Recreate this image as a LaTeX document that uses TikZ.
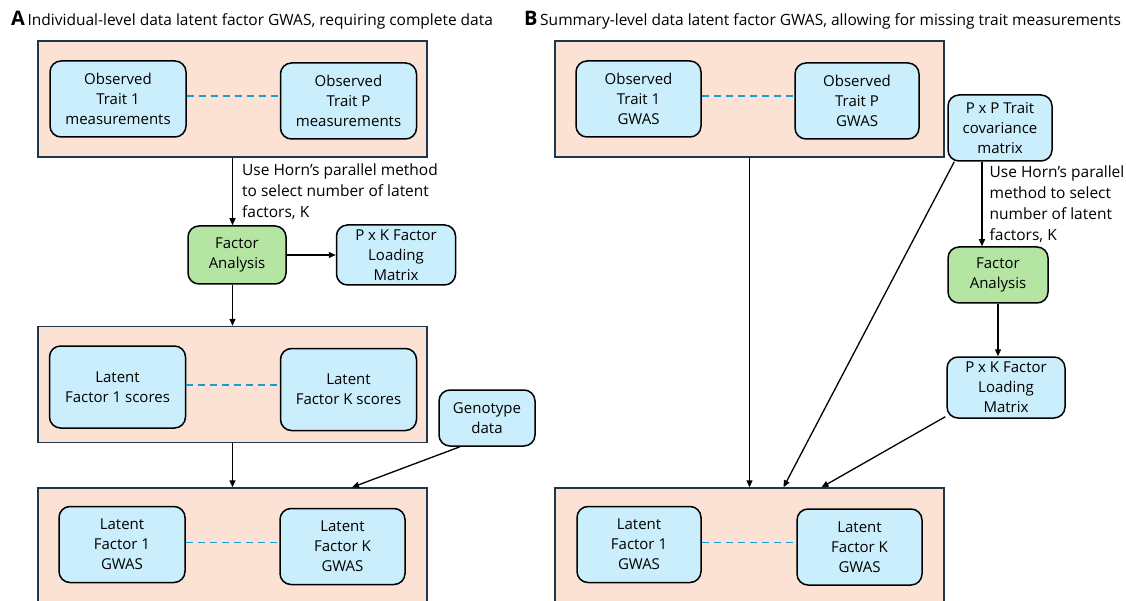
\documentclass[tikz,border=0pt]{standalone}
\usepackage{fontspec}
\setmainfont{Open Sans}
\usepackage{tikz}
\usetikzlibrary{arrows.meta, positioning}
\definecolor{panelpink}{RGB}{251, 226, 213}
\definecolor{paneledge}{RGB}{30, 55, 75}
\definecolor{boxblue}{RGB}{202, 238, 251}
\definecolor{boxgreen}{RGB}{180, 229, 162}
\definecolor{dashblue}{RGB}{21, 158, 213}

\begin{document}
\begin{tikzpicture}[
    x=1pt, y=-1pt,
    every node/.style={font=\fontsize{15}{20}\selectfont},
    panel/.style={rectangle, draw=paneledge, fill=panelpink, line width=1.4pt, minimum width=389pt, minimum height=116pt, inner sep=0pt},
    block/.style={rectangle, draw=black, fill=boxblue, rounded corners=11pt, line width=1.5pt, align=center, minimum width=136pt, minimum height=76pt, inner sep=1pt},
    fablock/.style={block, fill=boxgreen, minimum width=98pt, minimum height=58pt},
    link/.style={dashblue, dash pattern=on 7pt off 5pt, line width=1.3pt},
    arrow/.style={-{Triangle[length=7pt, width=6pt]}, line width=1.3pt, black},
    note/.style={right, align=left, inner sep=0pt, font=\fontsize{15.5}{21}\selectfont}
]
    \useasboundingbox (0,0) rectangle (1126,601);

    % Titles
    \node[anchor=west, inner sep=0pt, font=\fontsize{15.5}{20}\selectfont] (titleA) at (11, 20) {{\fontsize{20}{20}\selectfont\bfseries A}\,Individual-level data latent factor GWAS, requiring complete data};
    \node[anchor=west, inner sep=0pt, font=\fontsize{15.5}{20}\selectfont] (titleB) at (524, 20) {{\fontsize{20}{20}\selectfont\bfseries B}\,Summary-level data latent factor GWAS, allowing for missing trait measurements};

    % Panel A nodes
    \node[panel] (obsA) at (232.5, 99) {};
    \node[block] (trait1A) at (118, 99) {Observed\\Trait 1\\measurements};
    \node[block] (traitPA) at (348.5, 101) {Observed\\Trait P\\measurements};
    \node[fablock] (faA) at (237, 255) {Factor\\Analysis};
    \node[block, right=49pt of faA, minimum width=119pt, minimum height=60pt] (loadA) {P x K Factor\\Loading\\Matrix};
    \node[panel] (scoreA) at (232.5, 384.5) {};
    \node[block, minimum height=82pt] (score1A) at (117.5, 387) {Latent\\Factor 1 scores};
    \node[block, minimum height=82pt] (scoreKA) at (348.5, 389.5) {Latent\\Factor K scores};
    \node[block, minimum width=96pt, minimum height=56pt] (genoA) at (487, 418) {Genotype\\data};
    \node[panel, minimum height=140pt] (gwasA) at (232.5, 558) {};
    \node[block, minimum width=126pt] (gwas1A) at (122, 544.5) {Latent\\Factor 1\\GWAS};
    \node[block, minimum width=125pt] (gwasKA) at (342.5, 546.5) {Latent\\Factor K\\GWAS};

    % Panel B nodes
    \node[panel] (obsB) at (749.5, 99) {};
    \node[block, minimum width=125pt] (trait1B) at (638.5, 99) {Observed\\Trait 1\\GWAS};
    \node[block, minimum width=124pt] (traitPB) at (857, 101) {Observed\\Trait P\\GWAS};
    \node[block, minimum width=104pt, minimum height=66pt] (covB) at (1000, 128) {P x P Trait\\covariance\\matrix};
    \node[fablock, minimum width=100pt, minimum height=56pt] (faB) at (998, 275) {Factor\\Analysis};
    \node[block, minimum width=118pt, minimum height=61pt] (loadB) at (1006, 387.5) {P x K Factor\\Loading\\Matrix};
    \node[panel, minimum height=140pt] (gwasB) at (749.5, 558) {};
    \node[block, minimum width=124pt] (gwas1B) at (639, 544.5) {Latent\\Factor 1\\GWAS};
    \node[block, minimum width=125pt] (gwasKB) at (859.5, 547) {Latent\\Factor K\\GWAS};

    % Dashed links
    \draw[link] ([yshift=3pt]trait1A.east) -- ([yshift=3pt]trait1A.east -| traitPA.west);
    \draw[link] ([yshift=2pt]score1A.east) -- ([yshift=2pt]score1A.east -| scoreKA.west);
    \draw[link] ([yshift=2pt]gwas1A.east) -- ([yshift=2pt]gwas1A.east -| gwasKA.west);
    \draw[link] ([yshift=3pt]trait1B.east) -- ([yshift=3pt]trait1B.east -| traitPB.west);
    \draw[link] ([yshift=2pt]gwas1B.east) -- ([yshift=2pt]gwas1B.east -| gwasKB.west);

    % Paths A
    \draw[arrow] (obsA.south) -- node[note, xshift=9pt] {Use Horn’s parallel method\\to select number of latent\\factors, K} (obsA.south |- faA.north);
    \draw[arrow] (faA) -- (loadA);
    \draw[arrow] (obsA.south |- faA.south) -- (scoreA.north);
    \draw[arrow] (scoreA) -- (gwasA);
    \draw[arrow] ([xshift=-27pt]genoA.south) -- ([xshift=119.5pt]gwasA.north);

    % Paths B
    \draw[arrow] (obsB) -- (gwasB);
    \draw[arrow] ([xshift=-18pt]covB.south) -- node[note, xshift=7pt] {Use Horn’s parallel\\method to select\\number of latent\\factors, K} ([xshift=-18pt]covB.south |- faB.north);
    \draw[arrow] (faB.south) -- (faB.south |- loadB.north);
    \draw[arrow] ([xshift=7pt]covB.south west) -- ([xshift=34pt]gwasB.north);
    \draw[arrow] ([xshift=-1pt, yshift=2pt]loadB.south west) -- ([xshift=72pt]gwasB.north);
\end{tikzpicture}
\end{document}
